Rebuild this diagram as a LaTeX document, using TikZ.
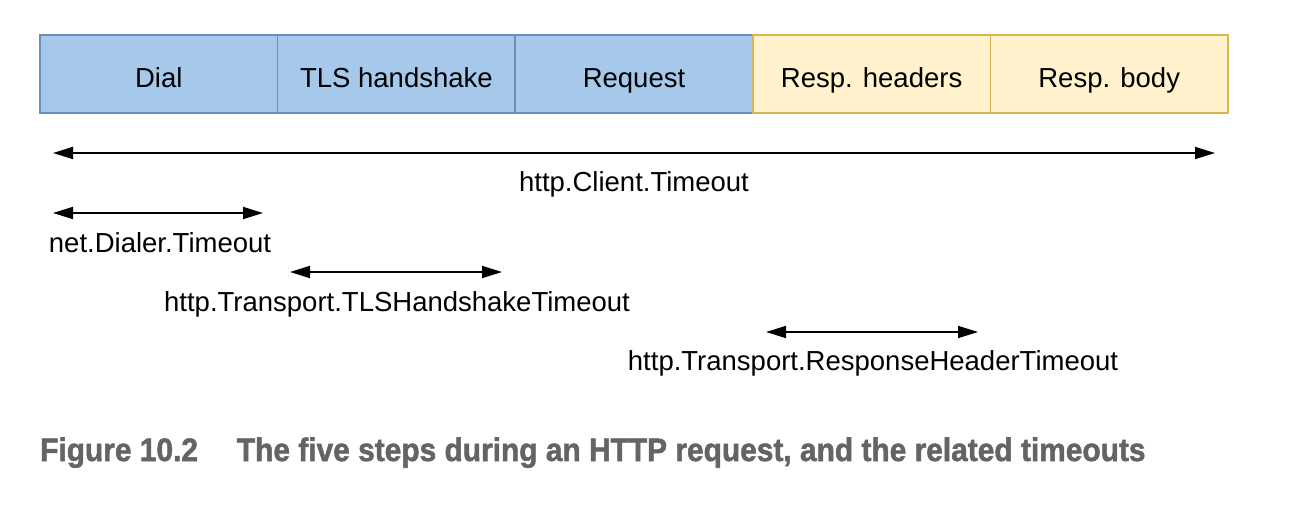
\documentclass[tikz,border=0pt]{standalone}
\usepackage{fontspec}
\setmainfont{Liberation Sans}
\newfontfamily\capfont[FakeBold=1.6]{Liberation Sans Bold}
\usetikzlibrary{arrows.meta}
\definecolor{bluefill}{HTML}{A5C8EB}
\definecolor{bluedraw}{HTML}{6C8EBF}
\definecolor{yelfill}{HTML}{FFF2CC}
\definecolor{yeldraw}{HTML}{D6B656}
\definecolor{capgray}{HTML}{646464}
\tikzset{
  stage/.style={draw, line width=1.6pt, minimum width=237.6pt, minimum height=78pt,
    inner sep=0pt, outer sep=0pt, text height=30pt, text depth=4pt,
    font=\fontsize{27.5}{30}\selectfont},
  bluestage/.style={stage, fill=bluefill, draw=bluedraw},
  yelstage/.style={stage, fill=yelfill, draw=yeldraw},
  span/.style={line width=1.8pt, {Triangle[length=20pt,width=12pt]}-{Triangle[length=20pt,width=12pt]}},
  lbl/.style={anchor=base, inner sep=0pt, font=\fontsize{27.5}{30}\selectfont}
}
\begin{document}
\begin{tikzpicture}[x=1pt,y=-1pt]
\useasboundingbox (0,0) rectangle (1290,504);
% stages
\node[bluestage] (dial) at (158.8,74) {Dial};
\node[bluestage] (tls)  at (396.4,74) {TLS handshake};
\node[bluestage] (req)  at (634.0,74) {Request};
\node[yelstage]  (rh)   at (871.6,74) {Resp. headers};
\node[yelstage]  (rb)   at (1109.2,74) {Resp. body};
% timeout spans
\coordinate (c1) at (53,153);   \coordinate (c2) at (1215,153);
\coordinate (d1) at (53,213);   \coordinate (d2) at (263,213);
\coordinate (t1) at (290,272);  \coordinate (t2) at (502,272);
\coordinate (r1) at (766,332);  \coordinate (r2) at (978,332);
\draw[span] (c1) -- (c2);
\draw[span] (d1) -- (d2);
\draw[span] (t1) -- (t2);
\draw[span] (r1) -- (r2);
\node[lbl] (lc) at (634,191) {http.Client.Timeout};
\node[lbl] (ld) at (160,252) {net.Dialer.Timeout};
\node[lbl] (lt) at (397,311) {http.Transport.TLSHandshakeTimeout};
\node[lbl] (lr) at (873,370) {http.Transport.ResponseHeaderTimeout};
% caption
\node[anchor=base west, inner sep=0pt, text=capgray] (cap) at (40,461)
  {\resizebox{1105pt}{23.5pt}{\capfont Figure 10.2\hspace{1.3em}The five steps during an HTTP request, and the related timeouts}};
\end{tikzpicture}
\end{document}
